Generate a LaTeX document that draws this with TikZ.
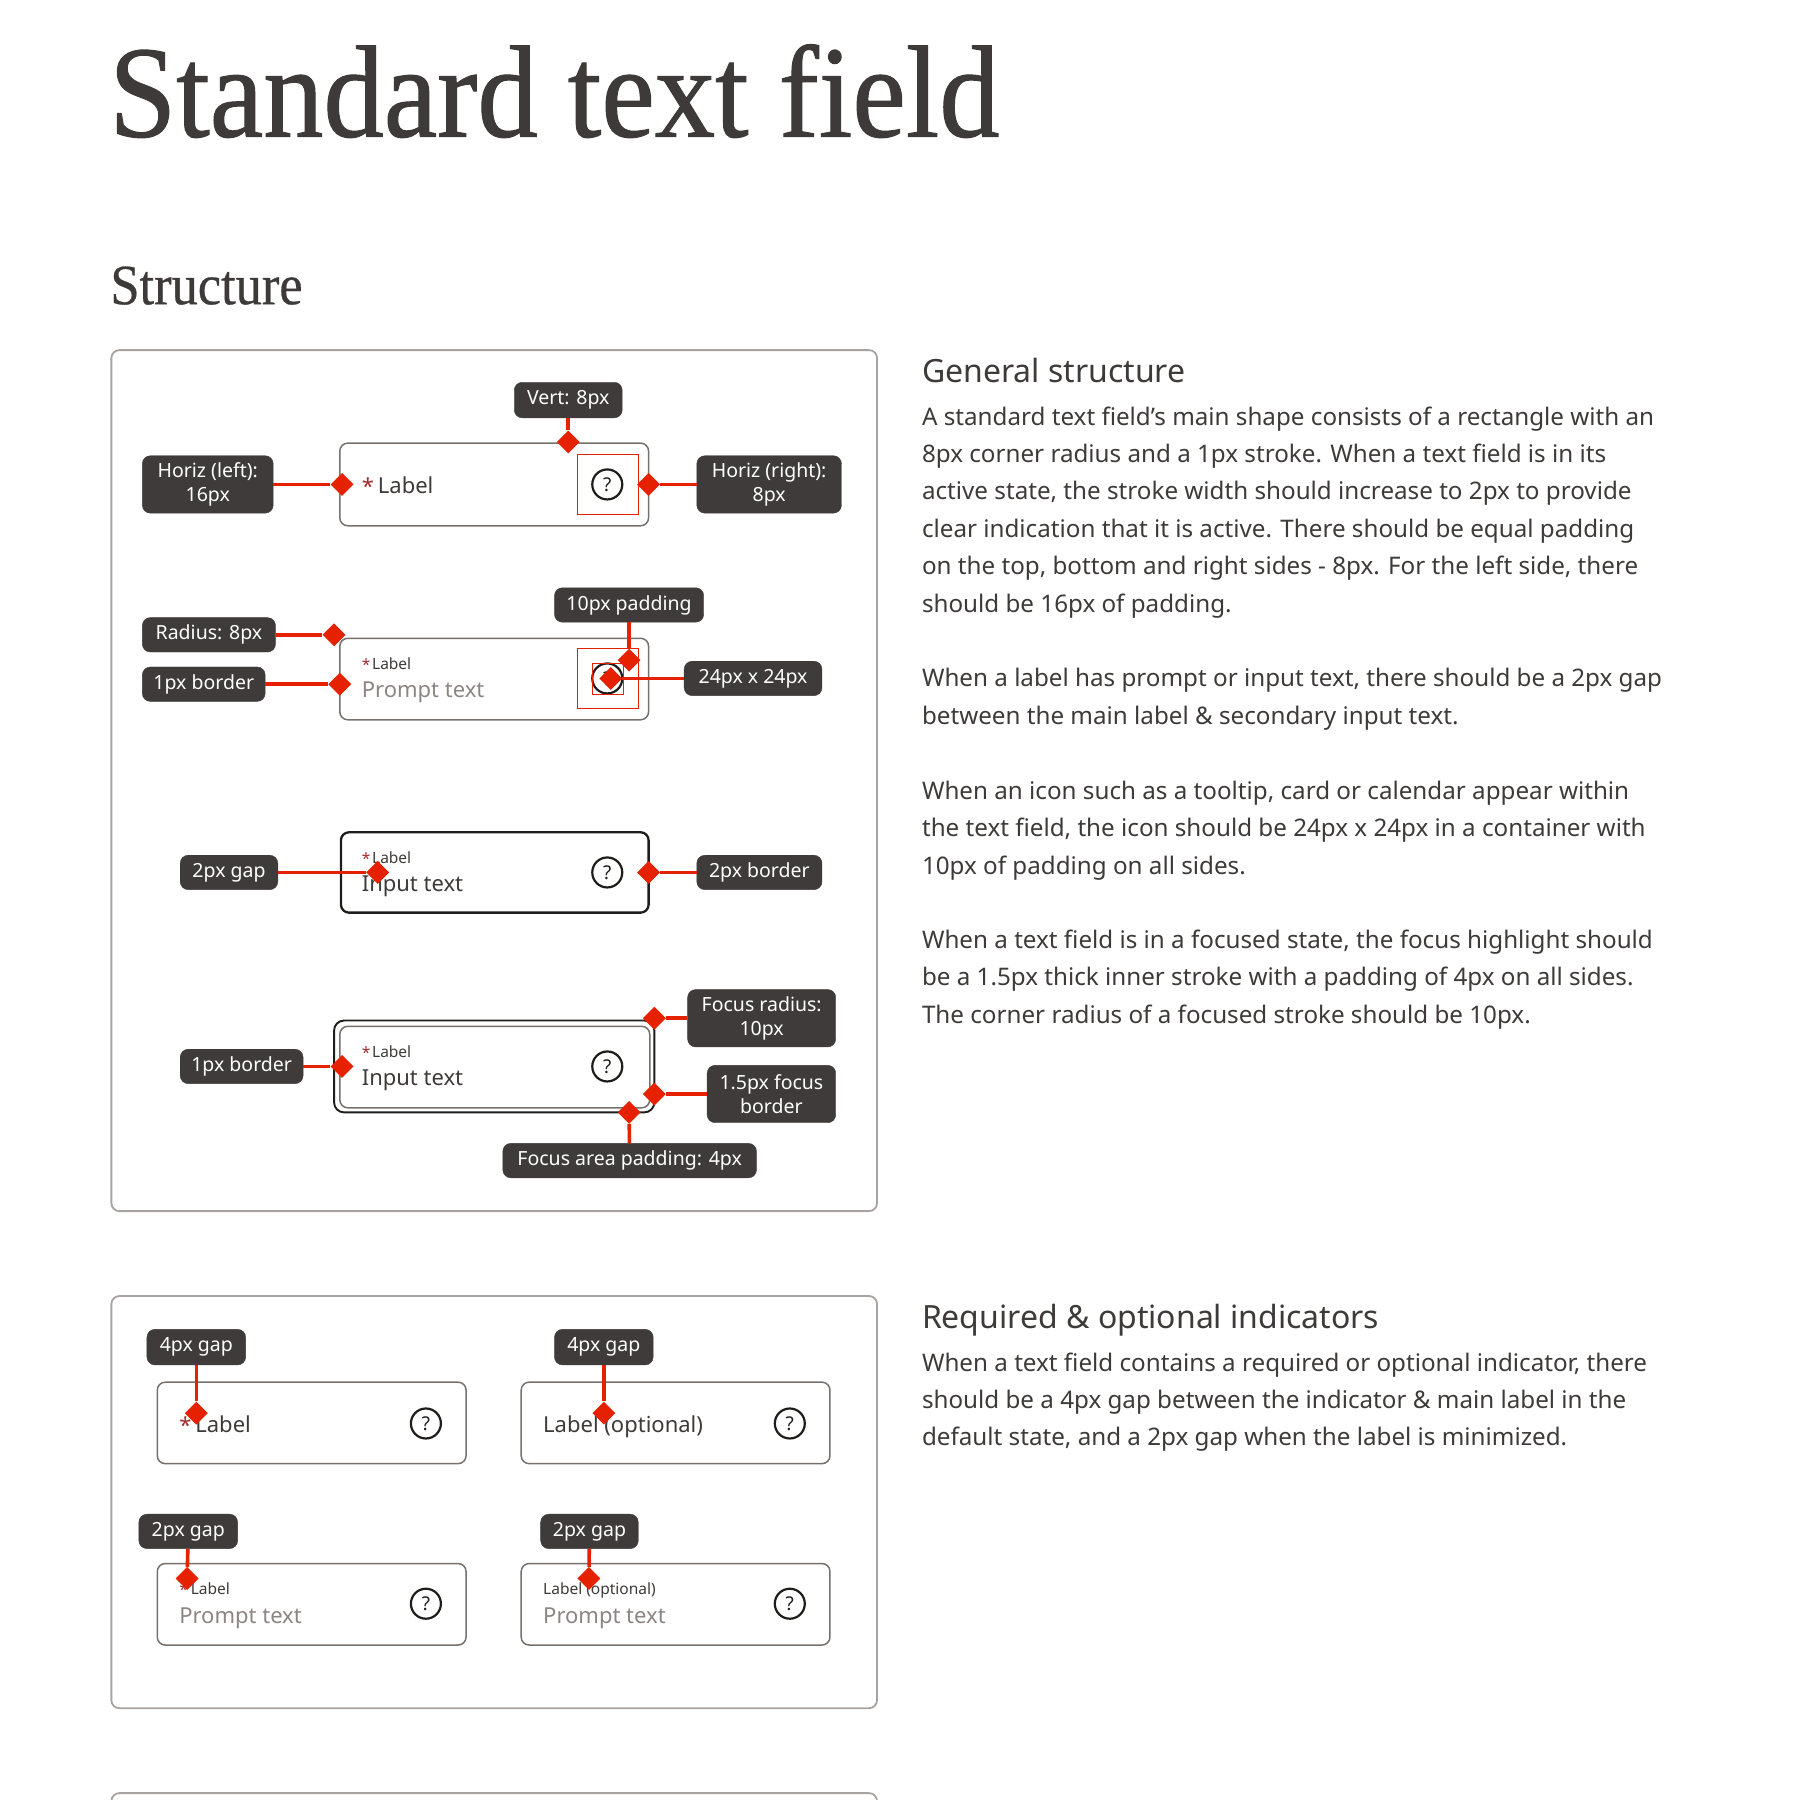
\documentclass[tikz,border=0pt]{standalone}
\usepackage{fontspec}
\usetikzlibrary{shapes.geometric}
\setmainfont{Noto Sans}
\newfontfamily\titlefont[FakeStretch=0.92,FakeBold=0.8]{Liberation Serif}
\newfontfamily\subtitlefont[FakeStretch=0.92,FakeBold=0.5]{Liberation Serif}
\newfontfamily\bodyfont{Noto Sans}
\definecolor{ink}{HTML}{3D3A39}
\definecolor{chipfill}{HTML}{3F3B3A}
\definecolor{panelline}{HTML}{A8A3A1}
\definecolor{fieldline}{HTML}{77716E}
\definecolor{markred}{HTML}{E62100}
\definecolor{starred}{HTML}{A32A2A}
\definecolor{prompt}{HTML}{8C8583}
\definecolor{iconink}{HTML}{1F1D1C}
\tikzset{
  txt/.style={inner sep=0pt,anchor=base west,text=ink},
  panelbox/.style={draw=panelline,line width=1.8pt,rounded corners=8pt,fill=white},
  fieldbox/.style={draw=fieldline,line width=1.5pt,rounded corners=8pt},
  activebox/.style={draw=iconink,line width=2.3pt,rounded corners=8pt},
  focusbox/.style={draw=iconink,line width=1.9pt,rounded corners=10pt},
  chipbox/.style={fill=chipfill,draw=chipfill,rounded corners=8pt,inner sep=0pt,text=white,align=center,font=\fontsize{19.5}{24}\selectfont\bfseries},
  helpicon/.style={circle,draw=iconink,line width=2.2pt,minimum size=30pt,inner sep=0pt,text=iconink,font=\fontsize{19}{19}\selectfont\bfseries},
  redsq/.style={draw=markred,line width=1.4pt},
  conn/.style={draw=markred,line width=3.6pt},
  dia/.style={diamond,fill=markred,inner sep=0pt,minimum width=23pt,minimum height=23pt},
  big/.style={font=\fontsize{22}{22}\selectfont},
  small/.style={font=\fontsize{15.5}{16}\selectfont},
  strong/.style={font=\fontsize{22}{22}\selectfont\bfseries},
  head/.style={txt,font=\fontsize{32}{32}\selectfont\bfseries},
  para/.style={inner sep=0pt,anchor=north west,align=left,text=ink,font=\fontsize{24.2}{37.4}\selectfont}
}
\newcommand\bx[7][]{\node[#1,minimum width={(#5-#3)*1.14796pt},minimum height={(#6-#4)*1.14796pt}] (#2) at ({(#3+#5)/2},{(#4+#6)/2}) {#7};}
\newcommand\rr[6]{\node[#1,inner sep=0pt,minimum width={(#5-#3)*1.14796pt},minimum height={(#6-#4)*1.14796pt}] (#2) at ({(#3+#5)/2},{(#4+#6)/2}) {};}
\begin{document}
\begin{tikzpicture}[x=1.14796pt,y=-1.14796pt]
\useasboundingbox (0,0) rectangle (1568,1568);
\clip (0,0) rectangle (1568,1568);
\fill[white] (0,0) rectangle (1568,1568);
% titles
\node[txt,font=\fontsize{131}{131}\selectfont\titlefont] (title) at (95,119) {Standard text field};
\node[txt,font=\fontsize{57}{57}\selectfont\subtitlefont] (struct) at (96,265) {Structure};
% panels
\rr{panelbox}{panelA}{97}{305}{764}{1055}
\rr{panelbox}{panelB}{97}{1129}{764}{1488}
\rr{panelbox}{panelC}{97}{1562}{764}{1700}
% fields
\rr{fieldbox}{f1}{296}{386}{565}{458}
\rr{fieldbox}{f2}{296}{556}{565}{627}
\rr{activebox}{f3}{297}{725}{565}{795}
\rr{focusbox}{f4o}{291}{889}{570}{969}
\rr{fieldbox}{f4}{296}{894}{566}{965}
\rr{fieldbox}{g1}{137}{1204}{406}{1275}
\rr{fieldbox}{g2}{454}{1204}{723}{1275}
\rr{fieldbox}{g3}{137}{1362}{406}{1433}
\rr{fieldbox}{g4}{454}{1362}{723}{1433}
% field texts
\node[txt,big,text=starred] (s1) at (315,431) {*};
\node[txt,big] (l1) at (329,430) {Label};
\node[txt,small,text=starred] (s2) at (315,584) {*};
\node[txt,small] (l2) at (324,583) {Label};
\node[txt,strong,text=prompt] (p2) at (315,608) {Prompt text};
\node[txt,small,text=starred] (s3) at (315,753) {*};
\node[txt,small] (l3) at (324,752) {Label};
\node[txt,strong] (p3) at (315,777) {Input text};
\node[txt,small,text=starred] (s4) at (315,922) {*};
\node[txt,small] (l4) at (324,921) {Label};
\node[txt,strong] (p4) at (315,946) {Input text};
\node[txt,big,text=starred] (sg1) at (156,1249) {*};
\node[txt,big] (lg1) at (170,1248) {Label};
\node[txt,big] (lg2) at (473,1248) {Label (optional)};
\node[txt,small,text=starred] (sg3) at (156,1390) {*};
\node[txt,small] (lg3) at (166,1389) {Label};
\node[txt,strong,text=prompt] (pg3) at (156,1414) {Prompt text};
\node[txt,small] (lg4) at (473,1389) {Label (optional)};
\node[txt,strong,text=prompt] (pg4) at (473,1414) {Prompt text};
% icons
\node[helpicon] (i1) at (529,422) {?};
\node[helpicon] (i2) at (529,591) {?};
\node[helpicon] (i3) at (529,760) {?};
\node[helpicon] (i4) at (529,929) {?};
\node[helpicon] (ig1) at (371,1240) {?};
\node[helpicon] (ig2) at (688,1240) {?};
\node[helpicon] (ig3) at (371,1397) {?};
\node[helpicon] (ig4) at (688,1397) {?};
% red guides
\rr{redsq}{q1}{503}{396}{556}{448}
\rr{redsq}{q2}{503}{565}{556}{617}
\rr{redsq}{q3}{516}{578}{543}{605}
% chips
\bx[chipbox]{cVert}{448}{333}{542}{364}{Vert: 8px}
\bx[chipbox]{cHL}{124}{397}{238}{447}{Horiz (left):\\16px}
\bx[chipbox]{cHR}{607}{397}{733}{447}{Horiz (right):\\8px}
\bx[chipbox]{cPad}{483}{512}{613}{542}{10px padding}
\bx[chipbox]{cRad}{124}{538}{240}{568}{Radius: 8px}
\bx[chipbox]{cB1}{124}{581}{231}{611}{1px border}
\bx[chipbox]{cIcon}{596}{576}{716}{606}{24px x 24px}
\bx[chipbox]{cGap}{157}{745}{242}{775}{2px gap}
\bx[chipbox]{cB2}{607}{745}{716}{775}{2px border}
\bx[chipbox]{cFR}{599}{862}{728}{912}{Focus radius:\\10px}
\bx[chipbox]{cB3}{157}{914}{264}{944}{1px border}
\bx[chipbox]{cFB}{616}{928}{728}{978}{1.5px focus\\border}
\bx[chipbox]{cFA}{438}{996}{659}{1026}{Focus area padding: 4px}
\bx[chipbox]{cG1}{128}{1158}{214}{1189}{4px gap}
\bx[chipbox]{cG2}{483}{1158}{569}{1189}{4px gap}
\bx[chipbox]{cG3}{121}{1319}{207}{1349}{2px gap}
\bx[chipbox]{cG4}{471}{1319}{556}{1349}{2px gap}
% diamonds
\node[dia] (dVert) at (495,385) {};
\node[dia] (dHL) at (298,422) {};
\node[dia] (dHR) at (565,422) {};
\node[dia] (dPad) at (548,575) {};
\node[dia] (dRad) at (291,553) {};
\node[dia] (dB1) at (296,596) {};
\node[dia] (dIcon) at (532,591) {};
\node[dia] (dGap) at (329,760) {};
\node[dia] (dB2) at (565,760) {};
\node[dia] (dFR) at (570,887) {};
\node[dia] (dB3) at (298,929) {};
\node[dia] (dFB) at (570,953) {};
\node[dia] (dFA) at (548,969) {};
\node[dia] (dG1) at (171,1231) {};
\node[dia] (dG2) at (526,1231) {};
\node[dia] (dG3) at (163,1375) {};
\node[dia] (dG4) at (513,1375) {};
% connectors
\draw[conn] (cVert) -- (dVert);
\draw[conn] (cHL) -- (dHL);
\draw[conn] (cHR) -- (dHR);
\draw[conn] (cPad) -- (dPad);
\draw[conn] (cRad) -- (dRad);
\draw[conn] (cB1) -- (dB1);
\draw[conn] (cIcon) -- (dIcon);
\draw[conn] (cGap) -- (dGap);
\draw[conn] (cB2) -- (dB2);
\draw[conn] (cFR) -- (dFR);
\draw[conn] (cB3) -- (dB3);
\draw[conn] (cFB) -- (dFB);
\draw[conn] (cFA) -- (dFA);
\draw[conn] (cG1) -- (dG1);
\draw[conn] (cG2) -- (dG2);
\draw[conn] (cG3) -- (dG3);
\draw[conn] (cG4) -- (dG4);
% right column
\node[head] (h1) at (803,333) {General structure};
\node[para] (a1) at (803,354) {A standard text field’s main shape consists of a rectangle with an\\8px corner radius and a 1px stroke. When a text field is in its\\active state, the stroke width should increase to 2px to provide\\clear indication that it is active. There should be equal padding\\on the top, bottom and right sides - 8px. For the left side, there\\should be 16px of padding.};
\node[para] (a2) at (803,582) {When a label has prompt or input text, there should be a 2px gap\\between the main label \& secondary input text.};
\node[para] (a3) at (803,680) {When an icon such as a tooltip, card or calendar appear within\\the text field, the icon should be 24px x 24px in a container with\\10px of padding on all sides.};
\node[para] (a4) at (803,810) {When a text field is in a focused state, the focus highlight should\\be a 1.5px thick inner stroke with a padding of 4px on all sides.\\The corner radius of a focused stroke should be 10px.};
\node[head] (h2) at (803,1157) {Required \& optional indicators};
\node[para] (b1) at (803,1178) {When a text field contains a required or optional indicator, there\\should be a 4px gap between the indicator \& main label in the\\default state, and a 2px gap when the label is minimized.};
\end{tikzpicture}
\end{document}
